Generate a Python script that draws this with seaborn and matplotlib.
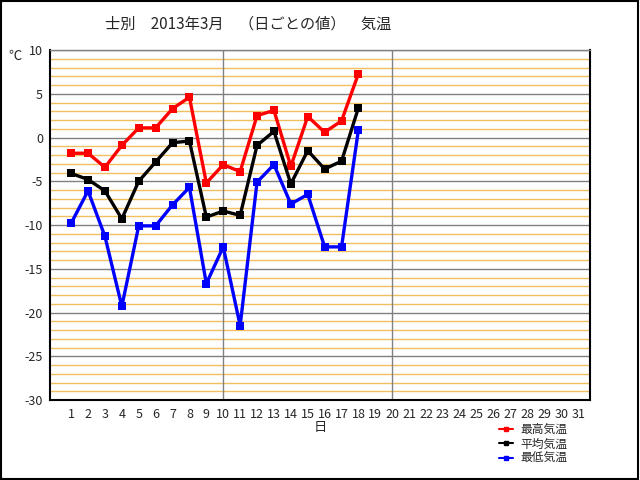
import matplotlib
matplotlib.use("Agg")
import matplotlib.pyplot as plt
from matplotlib.ticker import MultipleLocator
from matplotlib.lines import Line2D
from matplotlib.patches import Rectangle
import pandas as pd
import seaborn as sns

# 士別 2013年3月 日ごとの気温 (1日〜18日)
days = list(range(1, 19))
temp_max = [-1.8, -1.8, -3.4, -0.9, 1.1, 1.1, 3.3, 4.6, -5.2, -3.1, -3.9, 2.5, 3.1, -3.3, 2.4, 0.6, 1.9, 7.3]
temp_mean = [-4.1, -4.8, -6.1, -9.3, -5.0, -2.8, -0.6, -0.4, -9.1, -8.4, -8.9, -0.9, 0.7, -5.3, -1.5, -3.6, -2.7, 3.4]
temp_min = [-9.8, -6.1, -11.3, -19.3, -10.1, -10.1, -7.7, -5.7, -16.7, -12.5, -21.5, -5.1, -3.1, -7.6, -6.5, -12.5, -12.5, 0.9]
series_names = ["最高気温", "平均気温", "最低気温"]
series_colors = ["#ff0000", "#000000", "#0000ff"]
day_ticks = list(range(1, 32))
y_ticks = [10, 5, 0, -5, -10, -15, -20, -25, -30]

df = pd.DataFrame({"日": days, "最高気温": temp_max, "平均気温": temp_mean, "最低気温": temp_min})

sns.set_style("white")
plt.rcParams["font.family"] = ["Noto Sans CJK JP", "DejaVu Sans"]

fig = plt.figure(figsize=(6.4, 4.8), dpi=100)
ax = fig.add_axes([50 / 640, 1 - 400 / 480, 540 / 640, 350 / 480])

# 罫線
ax.set_ylim(-30, 10)
ax.set_xlim(-0.25, 31.7)
ax.yaxis.set_major_locator(MultipleLocator(5))
ax.yaxis.set_minor_locator(MultipleLocator(1))
ax.grid(which="minor", axis="y", color="#f0c060", lw=1.0, zorder=0)
ax.grid(which="major", axis="y", color="#808080", lw=1.0, zorder=1)
ax.grid(False, axis="x")
for d in (10, 20):
    ax.axvline(d, color="#808080", lw=1.0, zorder=1)

for name, col in zip(series_names, series_colors):
    sns.lineplot(data=df, x="日", y=name, ax=ax, color=col, lw=2.4,
                 marker="s", markersize=6, markeredgewidth=0, zorder=3)

ax.set_xticks(day_ticks)
ax.set_xticklabels([str(d) for d in day_ticks])
ax.set_yticks(y_ticks)
ax.set_yticklabels([str(v) for v in y_ticks])
ax.tick_params(axis="x", which="both", length=0, labelsize=9, pad=6)
ax.tick_params(axis="y", which="both", length=0, labelsize=9, pad=5)
ax.set_xlabel("日", fontsize=9.5, labelpad=0)
ax.set_ylabel("")

for side in ("left", "bottom", "right"):
    ax.spines[side].set_color("black")
    ax.spines[side].set_linewidth(1.5)
ax.spines["top"].set_color("#808080")
ax.spines["top"].set_linewidth(1.0)

fig.text(15 / 640, 1 - 56 / 480, "℃", fontsize=9.5, ha="center", va="center")
fig.text(248 / 640, 1 - 24 / 480, "士別　2013年3月　（日ごとの値）　気温",
         fontsize=11, ha="center", va="center")

handles = [Line2D([0], [0], color=c, lw=1.5, marker="s", markersize=2.5) for c in series_colors]
fig.legend(handles, series_names, loc="upper left", bbox_to_anchor=(499 / 640, 1 - 423 / 480),
           frameon=False, fontsize=8.5, handlelength=1.2, handletextpad=0.6,
           labelspacing=0.12, borderpad=0, borderaxespad=0)

fig.patches.append(Rectangle((0.001, 0.002), 0.996, 0.996, transform=fig.transFigure,
                             fill=False, edgecolor="black", lw=1.5))

fig.savefig("out.png", dpi=100)
